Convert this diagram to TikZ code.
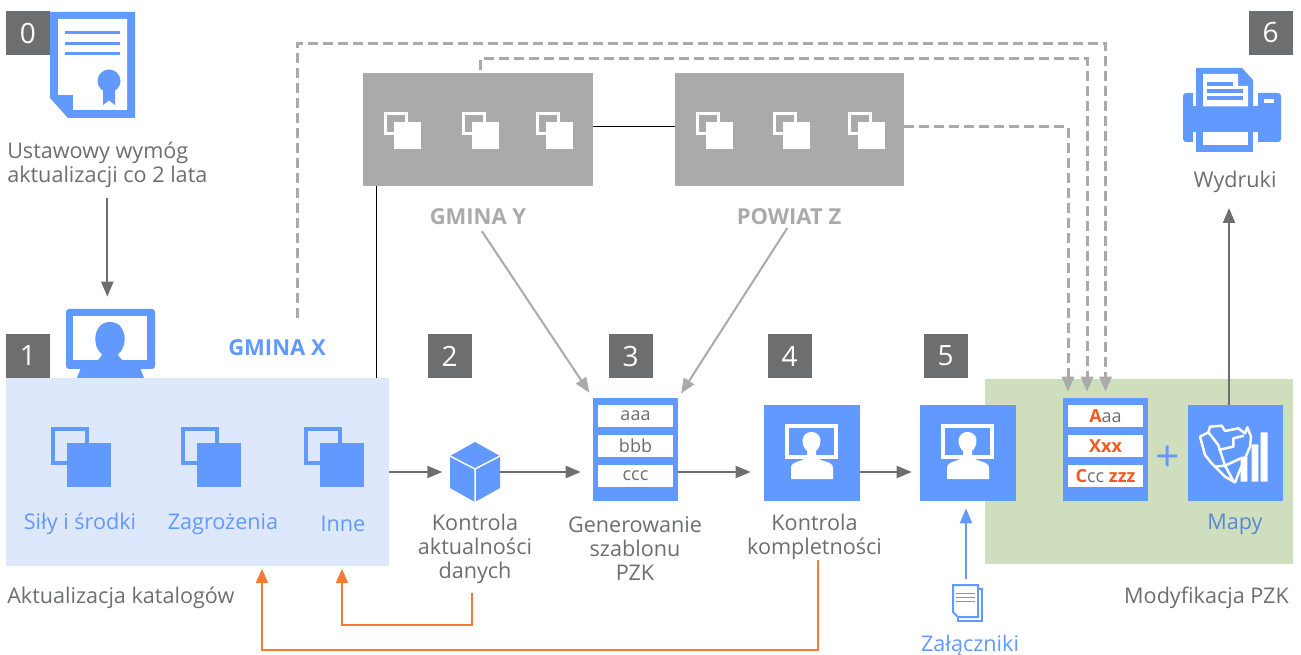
\documentclass[tikz,border=0pt]{standalone}
\usepackage{fontspec}
\setmainfont{Open Sans}
\usetikzlibrary{arrows.meta}
\definecolor{azure}{RGB}{98,153,255}
\definecolor{azure-lighter}{RGB}{221,232,253}
\definecolor{azure-dark}{RGB}{88,139,205}
\definecolor{slate}{RGB}{109,110,112}
\definecolor{ash}{RGB}{170,170,170}
\definecolor{signal}{RGB}{244,123,48}
\definecolor{signal-text}{RGB}{241,90,34}
\definecolor{meadow}{RGB}{207,223,189}
\newcommand{\px}[1]{#1*0.75pt}
% square with an outline behind it, (#1,#2) is the corner of the filled one
\newcommand{\copyicon}[5]{
	\draw[#5, line width=\px{#4}] (#1-#3*0.37+#4*0.5,#2-#3*0.37+#4*0.5) rectangle ++(#3*0.87-#4,#3*0.87-#4);
	\fill[#5] (#1,#2) rectangle ++(#3,#3);
}
% white monitor and person, (#1,#2) is the centre of the box
\newcommand{\personicon}[2]{
	\fill[white] (#1-27,#2-29) rectangle (#1+26,#2+6);
	\fill[azure] (#1-23,#2-25) rectangle (#1+22,#2+2);
	\fill[white] (#1-21,#2+26) -- (#1-21,#2+15) .. controls (#1-21,#2+8) and (#1-10,#2+9) .. (#1-5,#2+4) -- (#1-5,#2-2) .. controls (#1-12,#2-8) and (#1-11,#2-21) .. (#1-0.5,#2-21) .. controls (#1+10,#2-21) and (#1+11,#2-8) .. (#1+4,#2-2) -- (#1+4,#2+4) .. controls (#1+9,#2+9) and (#1+21,#2+8) .. (#1+21,#2+15) -- (#1+21,#2+26) -- cycle;
}
\tikzset{
	numbox/.style={fill=slate, text=white, inner sep=0, minimum width=\px{44}, minimum height=\px{44}, font=\fontsize{21}{21}\selectfont},
	bluebox/.style={fill=azure, inner sep=0},
	label/.style={text=slate, inner sep=0, align=center, font=\fontsize{16.2}{18}\selectfont},
	bluelabel/.style={label, text=azure},
	headlabel/.style={inner sep=0, font=\fontsize{16.5}{18}\selectfont\bfseries},
	rowbox/.style={fill=white, text=slate, inner sep=0, minimum width=\px{75}, minimum height=\px{22}, font=\fontsize{13.5}{13.5}\selectfont},
	flow/.style={slate, line width=\px{2}, ->},
	grayflow/.style={ash, line width=\px{2}, ->},
	dashflow/.style={ash, line width=\px{3}, dash pattern=on \px{10} off \px{5}, ->},
	backflow/.style={signal, line width=\px{1.5}, ->, >={Triangle[length=\px{14},width=\px{12}]}},
}
\begin{document}
\begin{tikzpicture}[x=0.75pt, y=-0.75pt, >={Triangle[length=\px{15},width=\px{12}]}]
	\useasboundingbox (0,0) rectangle (1301,655);

	% areas
	\node[fill=azure-lighter, inner sep=0, minimum width=\px{383}, minimum height=\px{188}] (katalogi) at (197.5,472) {};
	\node[fill=meadow, inner sep=0, minimum width=\px{308}, minimum height=\px{185}] (modyfikacja) at (1139,471.5) {};
	\node[fill=ash, inner sep=0, minimum width=\px{230}, minimum height=\px{113}] (gminaY) at (478,129.5) {};
	\node[fill=ash, inner sep=0, minimum width=\px{229}, minimum height=\px{113}] (powiatZ) at (789.5,129.5) {};

	% numbers
	\node[numbox] (nr0) at (28,33) {0};
	\node[numbox] (nr1) at (28,356) {1};
	\node[numbox] (nr2) at (449.5,356) {2};
	\node[numbox] (nr3) at (630.5,356) {3};
	\node[numbox] (nr4) at (789.5,356) {4};
	\node[numbox] (nr5) at (945.5,356) {5};
	\node[numbox] (nr6) at (1270.5,33) {6};

	% certificate
	\fill[azure] (50,12) -- (135,12) -- (135,118) -- (68,118) -- (50,98) -- cycle;
	\fill[white] (58,19) -- (127,19) -- (127,110) -- (73,110) -- (73,95) -- (58,95) -- cycle;
	\foreach \y in {33,43.5,54} \draw[azure, line width=\px{3}] (65,\y) -- (120,\y);
	\fill[azure] (103,90) -- (115,90) -- (115,105) -- (109,100.5) -- (103,105) -- cycle;
	\fill[azure] (109,81) circle[radius=\px{11.5}];

	% monitor
	\node[fill=azure, rounded corners=\px{3}, inner sep=0, minimum width=\px{89}, minimum height=\px{60}] (monitor) at (110.5,339) {};
	\fill[white] (73,316) rectangle (147,360);
	\fill[azure] (77,378) -- (82,365) -- (139,365) -- (144,378) -- cycle;
	\fill[azure] (97,362) .. controls (99,358) and (101,358) .. (102,354) .. controls (92,348) and (92,322) .. (110,322) .. controls (128,322) and (128,348) .. (118,354) .. controls (119,358) and (121,358) .. (124,362) -- cycle;
	\node[label, align=left, anchor=south west] (wymog) at (7,187.5) {Ustawowy wymóg\\aktualizacji co 2 lata};
	\node[headlabel, text=azure] (gminaX) at (277,348) {GMINA X};

	% catalogue icons
	\copyicon{67}{443}{44}{4}{azure}
	\copyicon{197}{443}{44}{4}{azure}
	\copyicon{320}{443}{44}{4}{azure}
	\node[bluelabel] (sily) at (80,524) {Siły i środki};
	\node[bluelabel] (zagrozenia) at (223,524) {Zagrożenia};
	\node[bluelabel] (inne) at (343,524) {Inne};
	\node[label, anchor=west] (aktualizacja) at (7,598) {Aktualizacja katalogów};

	% gray panels
	\foreach \x in {394,472,546,706,783,858} {
		\copyicon{\x}{122}{27}{3}{white}
	}
	\node[headlabel, text=ash] (labelY) at (478,217) {GMINA Y};
	\node[headlabel, text=ash] (labelZ) at (789,217) {POWIAT Z};

	% cube
	\node[inner sep=0, minimum width=\px{50}, minimum height=\px{60}] (kostka) at (475,472) {};
	\fill[azure] (475,442) -- (500,456) -- (500,488) -- (475,502) -- (450,488) -- (450,456) -- cycle;
	\draw[white, line width=\px{1.5}] (450,456) -- (475,469) -- (500,456) (475,469) -- (475,502);
	\node[label] (aktualnosc) at (475,549) {Kontrola\\aktualności\\danych};

	% templates
	\node[bluebox, minimum width=\px{85}, minimum height=\px{103}] (szablon) at (635.5,449.5) {};
	\node[rowbox] (aaa) at (635.5,416) {aaa};
	\node[rowbox] (bbb) at (635.5,446) {bbb};
	\node[rowbox] (ccc) at (635.5,476) {ccc};
	\node[label] (generowanie) at (635,549) {Generowanie\\szablonu\\PZK};

	\node[bluebox, minimum width=\px{85}, minimum height=\px{103}] (szablonPZK) at (1105.5,449.5) {};
	\node[rowbox] (aaaPZK) at (1105.5,416) {\textcolor{signal-text}{\bfseries A}aa};
	\node[rowbox, text=signal-text, font=\fontsize{13.5}{13.5}\selectfont\bfseries] (xxxPZK) at (1105.5,446) {Xxx};
	\node[rowbox] (cccPZK) at (1105.5,476) {\textcolor{signal-text}{\bfseries C}cc \textcolor{signal-text}{\bfseries zzz}};

	% persons
	\node[bluebox, minimum width=\px{96}, minimum height=\px{96}] (boxKontrola) at (812,453) {};
	\personicon{812}{453}
	\node[label] (kompletnosc) at (814.5,537) {Kontrola\\kompletności};
	\node[bluebox, minimum width=\px{96}, minimum height=\px{96}] (boxModyf) at (968,453) {};
	\personicon{968}{453}
	\node[label, anchor=east] (modyfikacjaTxt) at (1289,598) {Modyfikacja PZK};

	% attachments
	\node[inner sep=0, minimum width=\px{32}, minimum height=\px{48}] (zal) at (966,603) {};
	\draw[azure, line width=\px{2}] (958,617) -- (958,621) -- (982,621) -- (982,589) -- (978,589);
	\draw[azure, line width=\px{2}, fill=white] (953,585) -- (978,585) -- (978,617) -- (958,617) -- (953,612) -- cycle;
	\foreach \y in {593,597,601} \draw[azure, line width=\px{1}] (956,\y) -- (975,\y);
	\node[bluelabel] (zalaczniki) at (970,646) {Załączniki};

	% map and bars
	\node[bluebox, minimum width=\px{95}, minimum height=\px{96}] (mapa) at (1235.5,453) {};
	\begin{scope}[shift={(1170,395)}, x=0.25pt, y=-0.25pt]
		\draw[white, line width=\px{2.5}, line join=round] (90,125) -- (115,112) -- (120,95) -- (155,92) -- (165,108) -- (205,100) -- (225,115) -- (232,97) -- (243,125) -- (240,155) -- (212,220) -- (195,262) -- (165,245) -- (125,205) -- (105,180) -- cycle;
		\draw[white, line width=\px{2.5}, line join=round] (115,112) -- (145,150) -- (165,212) -- (190,258) (145,165) -- (190,155) -- (190,130) -- (222,122) (135,215) -- (165,212) -- (212,190);
		\fill[white] (212,185) rectangle (232,260) (245,148) rectangle (265,260) (272,112) rectangle (293,260);
	\end{scope}
	\node[label, text=azure-dark] (mapy) at (1235,524) {Mapy};
	\node[inner sep=0, text=azure, font=\fontsize{32}{32}\selectfont] (plus) at (1168,459) {+};

	% printer
	\fill[azure, rounded corners=\px{3}] (1183,93) rectangle (1281,142);
	\fill[white] (1193,88) rectangle (1258,106.5);
	\fill[azure] (1196,106.5) -- (1196,68) -- (1242,68) -- (1253,80) -- (1253,106.5) -- cycle;
	\fill[white] (1203,106.5) -- (1203,74) -- (1238,74) -- (1238,86) -- (1248,86) -- (1248,106.5) -- cycle;
	\foreach \y/\e in {84/1233,91/1243,98/1243} \draw[azure, line width=\px{4}] (1207,\y) -- (\e,\y);
	\fill[white] (1193,132) rectangle (1258,143);
	\fill[azure] (1196,132) rectangle (1253,152);
	\fill[white] (1203,132) rectangle (1248,145);
	\fill[white] (1264,99) rectangle (1274,103);
	\node[label] (wydruki) at (1235,182) {Wydruki};

	% connectors
	\coordinate (wyjscieX) at (297,318);
	\coordinate (wyjscieY) at (480,70);
	\coordinate (gora1) at (1105.5,44);
	\coordinate (gora2) at (1087,59);
	\coordinate (gora3) at (1068,127);
	\coordinate (pion) at (376,186);
	\coordinate (powrot1) at (472,625);
	\coordinate (powrot2) at (818,650);
	\coordinate (zwrot1) at (342,569);
	\coordinate (zwrot2) at (262,569);
	\coordinate (druk) at (1229,208);

	\draw[flow, shorten >=\px{12}] (wymog.south) ++(0,10.5) -- (wymog.south |- monitor.north);
	\draw[flow] (katalogi.east) -- ++(53,0);
	\draw[flow, shorten >=\px{12}] (kostka.east) -- (szablon.west |- kostka.east);
	\draw[flow, shorten >=\px{13}] (szablon.east |- kostka.east) -- (boxKontrola.west |- kostka.east);
	\draw[flow, shorten >=\px{8}] (boxKontrola.east |- kostka.east) -- (boxModyf.west |- kostka.east);
	\draw[flow] (druk |- mapa.north) -- (druk);

	\draw[black, line width=\px{1}] (pion) -- (pion |- katalogi.north);
	\draw[black, line width=\px{1}] (gminaY.east |- gora3) -- (powiatZ.west |- gora3);

	\draw[grayflow, shorten <=\px{7}, shorten >=\px{6}] (labelY.south) -- (szablon.north west);
	\draw[grayflow, shorten <=\px{3}, shorten >=\px{5}] (labelZ.south) -- (szablon.north east);

	\draw[dashflow, shorten >=\px{6}] (wyjscieX) |- (gora1) -- (gora1 |- szablonPZK.north);
	\draw[dashflow, shorten >=\px{6}] (wyjscieY) |- (gora2) -- (gora2 |- szablonPZK.north);
	\draw[dashflow, shorten >=\px{6}] (powiatZ.east |- gora3) -- (gora3) -- (gora3 |- szablonPZK.north);

	\draw[azure, line width=\px{2}, ->, shorten >=\px{7}] (zal.north) -- (zal.north |- boxModyf.south);

	\draw[backflow] (powrot1 |- aktualnosc.south) ++(0,9) -- (powrot1) -| (zwrot1);
	\draw[backflow] (powrot2 |- kompletnosc.south) -- (powrot2) -| (zwrot2);
\end{tikzpicture}
\end{document}
